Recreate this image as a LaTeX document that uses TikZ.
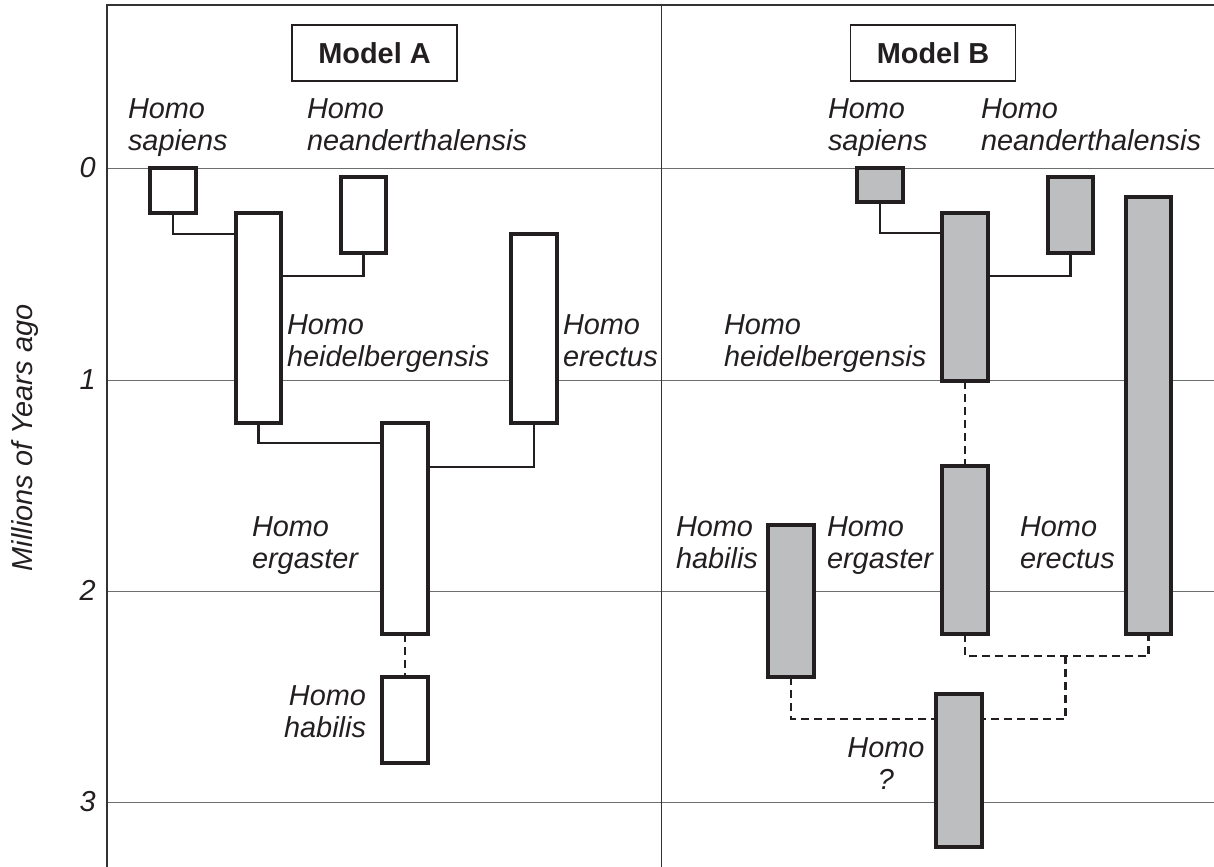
\documentclass[tikz,border=0pt]{standalone}
\usepackage{fontspec}
\setmainfont{Liberation Sans}
\definecolor{ink}{HTML}{231F20}
\definecolor{frameink}{HTML}{333333}
\definecolor{gridink}{HTML}{6D6E70}
\definecolor{boxgray}{HTML}{BCBEC0}
\begin{document}
\begin{tikzpicture}[x=1bp,y=-1bp,
  lbl/.style={font=\fontsize{29}{32}\selectfont\itshape, text=ink, inner sep=0pt, outer sep=0pt, align=left, anchor=north west},
  num/.style={font=\fontsize{29}{32}\selectfont\itshape, text=ink, inner sep=0pt, anchor=base east},
  modelbox/.style={draw=ink, line width=1.6bp, fill=white, minimum width=165bp, minimum height=56bp, inner sep=0pt, font=\fontsize{29}{32}\selectfont\bfseries, text=ink},
  spA/.style={draw=ink, line width=3.3bp, fill=white, inner sep=0pt, outer sep=0pt},
  spB/.style={draw=ink, line width=3.3bp, fill=boxgray, inner sep=0pt, outer sep=0pt},
  conn/.style={draw=ink, line width=2.9bp},
  dconn/.style={draw=ink, line width=2.9bp, dash pattern=on 8bp off 5bp},
  gridline/.style={draw=gridink, line width=1.2bp},
  frameline/.style={draw=frameink, line width=1.7bp}
]
\useasboundingbox (0,0) rectangle (1214,867);
% grid lines
\foreach \yy in {168.5,380.5,591.5,802.5} \draw[gridline] (107,\yy) -- (1214,\yy);
% frame
\draw[frameline] (1214,5) -- (107,5) -- (107,867);
\draw[frameline] (661.5,5) -- (661.5,867);
% axis
\node[num] (n0) at (96,177) {0};
\node[num] (n1) at (96,389) {1};
\node[num] (n2) at (96,600) {2};
\node[num] (n3) at (96,811) {3};
\node[font=\fontsize{29}{32}\selectfont\itshape, text=ink, inner sep=0pt, rotate=90, anchor=base] (axis) at (32,438) {Millions of Years ago};
% model titles
\node[modelbox] (mA) at (374.5,53) {Model A};
\node[modelbox] (mB) at (933,53) {Model B};
% Model A boxes
\node[spA, minimum width=46bp, minimum height=45bp] (sapA) at (173,190.5) {};
\node[spA, minimum width=45bp, minimum height=210bp] (heiA) at (258.5,318) {};
\node[spA, minimum width=45bp, minimum height=76bp] (neaA) at (363.5,215) {};
\node[spA, minimum width=46bp, minimum height=189bp] (ereA) at (534,328.5) {};
\node[spA, minimum width=46bp, minimum height=211bp] (ergA) at (405,528.5) {};
\node[spA, minimum width=46bp, minimum height=86bp] (habA) at (405,720) {};
% Model A connectors
\draw[conn] (sapA.south) |- (heiA.west |- 0,234);
\draw[conn] (neaA.south) |- (heiA.east |- 0,276);
\draw[conn] (heiA.south) |- (ergA.west |- 0,443);
\draw[conn] (ereA.south) |- (ergA.east |- 0,467);
\draw[dconn] (ergA.south) -- (habA.north);
% Model B boxes
\node[spB, minimum width=46bp, minimum height=34bp] (sapB) at (880,185) {};
\node[spB, minimum width=46bp, minimum height=168bp] (heiB) at (965,297) {};
\node[spB, minimum width=45bp, minimum height=76bp] (neaB) at (1070.5,215) {};
\node[spB, minimum width=45bp, minimum height=437bp] (ereB) at (1148.5,415.5) {};
\node[spB, minimum width=46bp, minimum height=168bp] (ergB) at (965,550) {};
\node[spB, minimum width=46bp, minimum height=152bp] (habB) at (791,601) {};
\node[spB, minimum width=46bp, minimum height=153bp] (qB) at (959,770.5) {};
% Model B connectors
\coordinate (jB) at (1065.5,656);
\draw[conn] (sapB.south) |- (heiB.west |- 0,233);
\draw[conn] (neaB.south) |- (heiB.east |- 0,276);
\draw[dconn] (heiB.south) -- (ergB.north);
\draw[dconn] (ergB.south) |- (jB) -| (ereB.south);
\draw[dconn] (jB) |- (qB.east |- 0,719);
\draw[dconn] (habB.south) |- (qB.west |- 0,719);
% labels Model A
\node[lbl] (tsapA) at (128,99) {Homo\\sapiens};
\node[lbl] (tneaA) at (307,99) {Homo\\neanderthalensis};
\node[lbl] (theiA) at (287,315) {Homo\\heidelbergensis};
\node[lbl] (tereA) at (563,315) {Homo\\erectus};
\node[lbl] (tergA) at (252,517) {Homo\\ergaster};
\node[lbl, align=right, anchor=north east] (thabA) at (366,686) {Homo\\habilis};
% labels Model B
\node[lbl] (tsapB) at (828,99) {Homo\\sapiens};
\node[lbl] (tneaB) at (981,99) {Homo\\neanderthalensis};
\node[lbl] (theiB) at (724,314.5) {Homo\\heidelbergensis};
\node[lbl] (thabB) at (676,517) {Homo\\habilis};
\node[lbl] (tergB) at (827,517) {Homo\\ergaster};
\node[lbl] (tereB) at (1020,517) {Homo\\erectus};
\node[lbl, align=center, anchor=north] (tqB) at (886,738) {Homo\\?};
\end{tikzpicture}
\end{document}
